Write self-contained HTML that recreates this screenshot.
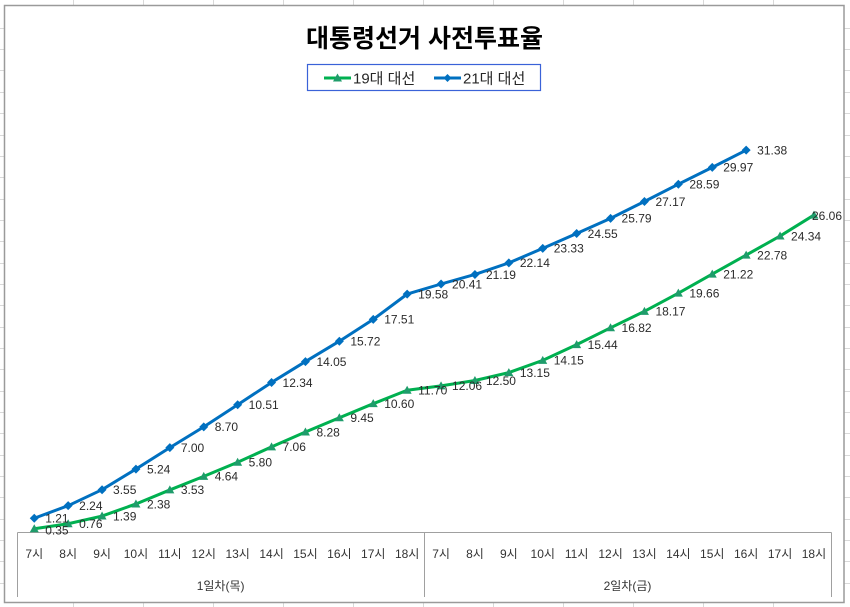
<!DOCTYPE html>
<html>
<head>
<meta charset="utf-8">
<style>
html,body{margin:0;padding:0;background:#fff;}
body{width:850px;height:607px;overflow:hidden;}
svg{display:block;}
.dl{font-family:"Liberation Sans","Noto Sans CJK KR",sans-serif;font-size:12px;fill:#2b2b2b;}
.cl{font-family:"Liberation Sans","Noto Sans CJK KR",sans-serif;font-size:12px;fill:#333333;text-anchor:middle;}
</style>
</head>
<body>
<svg width="850" height="607" viewBox="0 0 850 607" xmlns="http://www.w3.org/2000/svg">
  <!-- spreadsheet gridlines -->
  <g stroke="#d9d9d9" stroke-width="1">
    <line x1="73.5" y1="0" x2="73.5" y2="607"/>
    <line x1="143.5" y1="0" x2="143.5" y2="607"/>
    <line x1="213.5" y1="0" x2="213.5" y2="607"/>
    <line x1="283.5" y1="0" x2="283.5" y2="607"/>
    <line x1="353.5" y1="0" x2="353.5" y2="607"/>
    <line x1="423.5" y1="0" x2="423.5" y2="607"/>
    <line x1="493.5" y1="0" x2="493.5" y2="607"/>
    <line x1="563.5" y1="0" x2="563.5" y2="607"/>
    <line x1="633.5" y1="0" x2="633.5" y2="607"/>
    <line x1="703.5" y1="0" x2="703.5" y2="607"/>
    <line x1="773.5" y1="0" x2="773.5" y2="607"/>
    <line x1="0" y1="28.5" x2="850" y2="28.5"/>
    <line x1="0" y1="49.5" x2="850" y2="49.5"/>
    <line x1="0" y1="70.5" x2="850" y2="70.5"/>
    <line x1="0" y1="92.5" x2="850" y2="92.5"/>
    <line x1="0" y1="113.5" x2="850" y2="113.5"/>
    <line x1="0" y1="135.5" x2="850" y2="135.5"/>
    <line x1="0" y1="156.5" x2="850" y2="156.5"/>
    <line x1="0" y1="177.5" x2="850" y2="177.5"/>
    <line x1="0" y1="199.5" x2="850" y2="199.5"/>
    <line x1="0" y1="220.5" x2="850" y2="220.5"/>
    <line x1="0" y1="241.5" x2="850" y2="241.5"/>
    <line x1="0" y1="263.5" x2="850" y2="263.5"/>
    <line x1="0" y1="284.5" x2="850" y2="284.5"/>
    <line x1="0" y1="305.5" x2="850" y2="305.5"/>
    <line x1="0" y1="327.5" x2="850" y2="327.5"/>
    <line x1="0" y1="348.5" x2="850" y2="348.5"/>
    <line x1="0" y1="369.5" x2="850" y2="369.5"/>
    <line x1="0" y1="391.5" x2="850" y2="391.5"/>
    <line x1="0" y1="412.5" x2="850" y2="412.5"/>
    <line x1="0" y1="433.5" x2="850" y2="433.5"/>
    <line x1="0" y1="455.5" x2="850" y2="455.5"/>
    <line x1="0" y1="476.5" x2="850" y2="476.5"/>
    <line x1="0" y1="497.5" x2="850" y2="497.5"/>
    <line x1="0" y1="519.5" x2="850" y2="519.5"/>
    <line x1="0" y1="540.5" x2="850" y2="540.5"/>
    <line x1="0" y1="561.5" x2="850" y2="561.5"/>
    <line x1="0" y1="583.5" x2="850" y2="583.5"/>
  </g>

  <!-- chart area -->
  <rect x="4.5" y="5.5" width="839.5" height="597" fill="#ffffff" stroke="#9a9a9a" stroke-width="1.5"/>

  <!-- title -->
  <text x="424.5" y="47" text-anchor="middle" font-family="'Liberation Sans','Noto Sans CJK KR',sans-serif" font-size="25" font-weight="bold" fill="#000">대통령선거 사전투표율</text>

  <!-- legend -->
  <rect x="307.5" y="64.5" width="233" height="26" fill="#fff" stroke="#3a62d8" stroke-width="1.2"/>
  <line x1="324" y1="78" x2="351" y2="78" stroke="#00b050" stroke-width="3"/>
  <polygon points="337.5,73.5 342,81.5 333,81.5" fill="#1f9c6b"/>
  <text x="353" y="83.5" font-family="'Liberation Sans','Noto Sans CJK KR',sans-serif" font-size="15" fill="#262626">19대 대선</text>
  <line x1="434" y1="78" x2="461" y2="78" stroke="#0070c0" stroke-width="3"/>
  <polygon points="447.5,74 451.5,78 447.5,82 443.5,78" fill="#0070c0"/>
  <text x="463" y="83.5" font-family="'Liberation Sans','Noto Sans CJK KR',sans-serif" font-size="15" fill="#262626">21대 대선</text>

  <!-- category axis box -->
  <g stroke="#a0a0a0" stroke-width="1">
    <line x1="17.5" y1="532.5" x2="831.5" y2="532.5"/>
    <line x1="17.5" y1="532.5" x2="17.5" y2="597"/>
    <line x1="424.5" y1="532.5" x2="424.5" y2="597"/>
    <line x1="831.5" y1="532.5" x2="831.5" y2="597"/>
  </g>

  <!-- category labels -->
  <g class="cl">
    <text class="cl" x="34.25" y="558">7시</text>
    <text class="cl" x="68.15" y="558">8시</text>
    <text class="cl" x="102.05" y="558">9시</text>
    <text class="cl" x="135.95" y="558">10시</text>
    <text class="cl" x="169.85" y="558">11시</text>
    <text class="cl" x="203.75" y="558">12시</text>
    <text class="cl" x="237.65" y="558">13시</text>
    <text class="cl" x="271.55" y="558">14시</text>
    <text class="cl" x="305.45" y="558">15시</text>
    <text class="cl" x="339.35" y="558">16시</text>
    <text class="cl" x="373.25" y="558">17시</text>
    <text class="cl" x="407.15" y="558">18시</text>
    <text class="cl" x="441.05" y="558">7시</text>
    <text class="cl" x="474.95" y="558">8시</text>
    <text class="cl" x="508.85" y="558">9시</text>
    <text class="cl" x="542.75" y="558">10시</text>
    <text class="cl" x="576.65" y="558">11시</text>
    <text class="cl" x="610.55" y="558">12시</text>
    <text class="cl" x="644.45" y="558">13시</text>
    <text class="cl" x="678.35" y="558">14시</text>
    <text class="cl" x="712.25" y="558">15시</text>
    <text class="cl" x="746.15" y="558">16시</text>
    <text class="cl" x="780.05" y="558">17시</text>
    <text class="cl" x="813.95" y="558">18시</text>
    <text class="cl" x="220.6" y="590">1일차(목)</text>
    <text class="cl" x="627.5" y="590">2일차(금)</text>
  </g>

  <!-- 21대 대선 (blue) -->
  <polyline fill="none" stroke="#0070c0" stroke-width="3" stroke-linejoin="round" stroke-linecap="round"
    points="34.25,518.24 68.15,505.67 102.05,489.69 135.95,469.07 169.85,447.6 203.75,426.86 237.65,404.78 271.55,382.45 305.45,361.59 339.35,341.22 373.25,319.38 407.15,294.12 441.05,284.0 474.95,274.48 508.85,262.89 542.75,248.37 576.65,233.49 610.55,218.36 644.45,201.53 678.35,184.2 712.25,167.37 746.15,150.16"/>

  <!-- 19대 대선 (green) -->
  <polyline fill="none" stroke="#00b050" stroke-width="3" stroke-linejoin="round" stroke-linecap="round"
    points="34.25,528.73 68.15,523.73 102.05,516.04 135.95,503.96 169.85,489.93 203.75,476.39 237.65,462.24 271.55,446.87 305.45,431.98 339.35,417.71 373.25,403.68 407.15,390.26 441.05,385.87 474.95,380.5 508.85,372.57 542.75,360.37 576.65,344.63 610.55,327.8 644.45,311.33 678.35,293.15 712.25,274.12 746.15,255.08 780.05,236.05 813.95,215.07"/>

  <!-- blue markers (diamonds) -->
  <g fill="#0070c0">
    <polygon points="34.25,513.74 38.75,518.24 34.25,522.74 29.75,518.24"/>
    <polygon points="68.15,501.17 72.65,505.67 68.15,510.17 63.65,505.67"/>
    <polygon points="102.05,485.19 106.55,489.69 102.05,494.19 97.55,489.69"/>
    <polygon points="135.95,464.57 140.45,469.07 135.95,473.57 131.45,469.07"/>
    <polygon points="169.85,443.1 174.35,447.6 169.85,452.1 165.35,447.6"/>
    <polygon points="203.75,422.36 208.25,426.86 203.75,431.36 199.25,426.86"/>
    <polygon points="237.65,400.28 242.15,404.78 237.65,409.28 233.15,404.78"/>
    <polygon points="271.55,377.95 276.05,382.45 271.55,386.95 267.05,382.45"/>
    <polygon points="305.45,357.09 309.95,361.59 305.45,366.09 300.95,361.59"/>
    <polygon points="339.35,336.72 343.85,341.22 339.35,345.72 334.85,341.22"/>
    <polygon points="373.25,314.88 377.75,319.38 373.25,323.88 368.75,319.38"/>
    <polygon points="407.15,289.62 411.65,294.12 407.15,298.62 402.65,294.12"/>
    <polygon points="441.05,279.5 445.55,284.0 441.05,288.5 436.55,284.0"/>
    <polygon points="474.95,269.98 479.45,274.48 474.95,278.98 470.45,274.48"/>
    <polygon points="508.85,258.39 513.35,262.89 508.85,267.39 504.35,262.89"/>
    <polygon points="542.75,243.87 547.25,248.37 542.75,252.87 538.25,248.37"/>
    <polygon points="576.65,228.99 581.15,233.49 576.65,237.99 572.15,233.49"/>
    <polygon points="610.55,213.86 615.05,218.36 610.55,222.86 606.05,218.36"/>
    <polygon points="644.45,197.03 648.95,201.53 644.45,206.03 639.95,201.53"/>
    <polygon points="678.35,179.7 682.85,184.2 678.35,188.7 673.85,184.2"/>
    <polygon points="712.25,162.87 716.75,167.37 712.25,171.87 707.75,167.37"/>
    <polygon points="746.15,145.66 750.65,150.16 746.15,154.66 741.65,150.16"/>
  </g>

  <!-- green markers (triangles) -->
  <g fill="#1f9c6b">
    <polygon points="34.25,524.23 38.75,532.23 29.75,532.23"/>
    <polygon points="68.15,519.23 72.65,527.23 63.65,527.23"/>
    <polygon points="102.05,511.54 106.55,519.54 97.55,519.54"/>
    <polygon points="135.95,499.46 140.45,507.46 131.45,507.46"/>
    <polygon points="169.85,485.43 174.35,493.43 165.35,493.43"/>
    <polygon points="203.75,471.89 208.25,479.89 199.25,479.89"/>
    <polygon points="237.65,457.74 242.15,465.74 233.15,465.74"/>
    <polygon points="271.55,442.37 276.05,450.37 267.05,450.37"/>
    <polygon points="305.45,427.48 309.95,435.48 300.95,435.48"/>
    <polygon points="339.35,413.21 343.85,421.21 334.85,421.21"/>
    <polygon points="373.25,399.18 377.75,407.18 368.75,407.18"/>
    <polygon points="407.15,385.76 411.65,393.76 402.65,393.76"/>
    <polygon points="441.05,381.37 445.55,389.37 436.55,389.37"/>
    <polygon points="474.95,376.0 479.45,384.0 470.45,384.0"/>
    <polygon points="508.85,368.07 513.35,376.07 504.35,376.07"/>
    <polygon points="542.75,355.87 547.25,363.87 538.25,363.87"/>
    <polygon points="576.65,340.13 581.15,348.13 572.15,348.13"/>
    <polygon points="610.55,323.3 615.05,331.3 606.05,331.3"/>
    <polygon points="644.45,306.83 648.95,314.83 639.95,314.83"/>
    <polygon points="678.35,288.65 682.85,296.65 673.85,296.65"/>
    <polygon points="712.25,269.62 716.75,277.62 707.75,277.62"/>
    <polygon points="746.15,250.58 750.65,258.58 741.65,258.58"/>
    <polygon points="780.05,231.55 784.55,239.55 775.55,239.55"/>
    <polygon points="813.95,210.57 818.45,218.57 809.45,218.57"/>
  </g>

  <!-- blue data labels -->
  <g class="dl">
    <text x="45.25" y="522.54">1.21</text>
    <text x="79.15" y="509.97">2.24</text>
    <text x="113.05" y="493.99">3.55</text>
    <text x="146.95" y="473.37">5.24</text>
    <text x="180.85" y="451.9">7.00</text>
    <text x="214.75" y="431.16">8.70</text>
    <text x="248.65" y="409.08">10.51</text>
    <text x="282.55" y="386.75">12.34</text>
    <text x="316.45" y="365.89">14.05</text>
    <text x="350.35" y="345.52">15.72</text>
    <text x="384.25" y="323.68">17.51</text>
    <text x="418.15" y="298.42">19.58</text>
    <text x="452.05" y="288.3">20.41</text>
    <text x="485.95" y="278.78">21.19</text>
    <text x="519.85" y="267.19">22.14</text>
    <text x="553.75" y="252.67">23.33</text>
    <text x="587.65" y="237.79">24.55</text>
    <text x="621.55" y="222.66">25.79</text>
    <text x="655.45" y="205.83">27.17</text>
    <text x="689.35" y="188.5">28.59</text>
    <text x="723.25" y="171.67">29.97</text>
    <text x="757.15" y="154.46">31.38</text>
  </g>

  <!-- green data labels -->
  <g class="dl">
    <text x="45.25" y="534.5">0.35</text>
    <text x="79.15" y="528.03">0.76</text>
    <text x="113.05" y="520.34">1.39</text>
    <text x="146.95" y="508.26">2.38</text>
    <text x="180.85" y="494.23">3.53</text>
    <text x="214.75" y="480.69">4.64</text>
    <text x="248.65" y="466.54">5.80</text>
    <text x="282.55" y="451.17">7.06</text>
    <text x="316.45" y="436.28">8.28</text>
    <text x="350.35" y="422.01">9.45</text>
    <text x="384.25" y="407.98">10.60</text>
    <text x="418.15" y="394.56">11.70</text>
    <text x="452.05" y="390.17">12.06</text>
    <text x="485.95" y="384.8">12.50</text>
    <text x="519.85" y="376.87">13.15</text>
    <text x="553.75" y="364.67">14.15</text>
    <text x="587.65" y="348.93">15.44</text>
    <text x="621.55" y="332.1">16.82</text>
    <text x="655.45" y="315.63">18.17</text>
    <text x="689.35" y="297.45">19.66</text>
    <text x="723.25" y="278.42">21.22</text>
    <text x="757.15" y="259.38">22.78</text>
    <text x="791.05" y="240.35">24.34</text>
    <text x="812" y="219.8">26.06</text>
  </g>
</svg>
</body>
</html>
